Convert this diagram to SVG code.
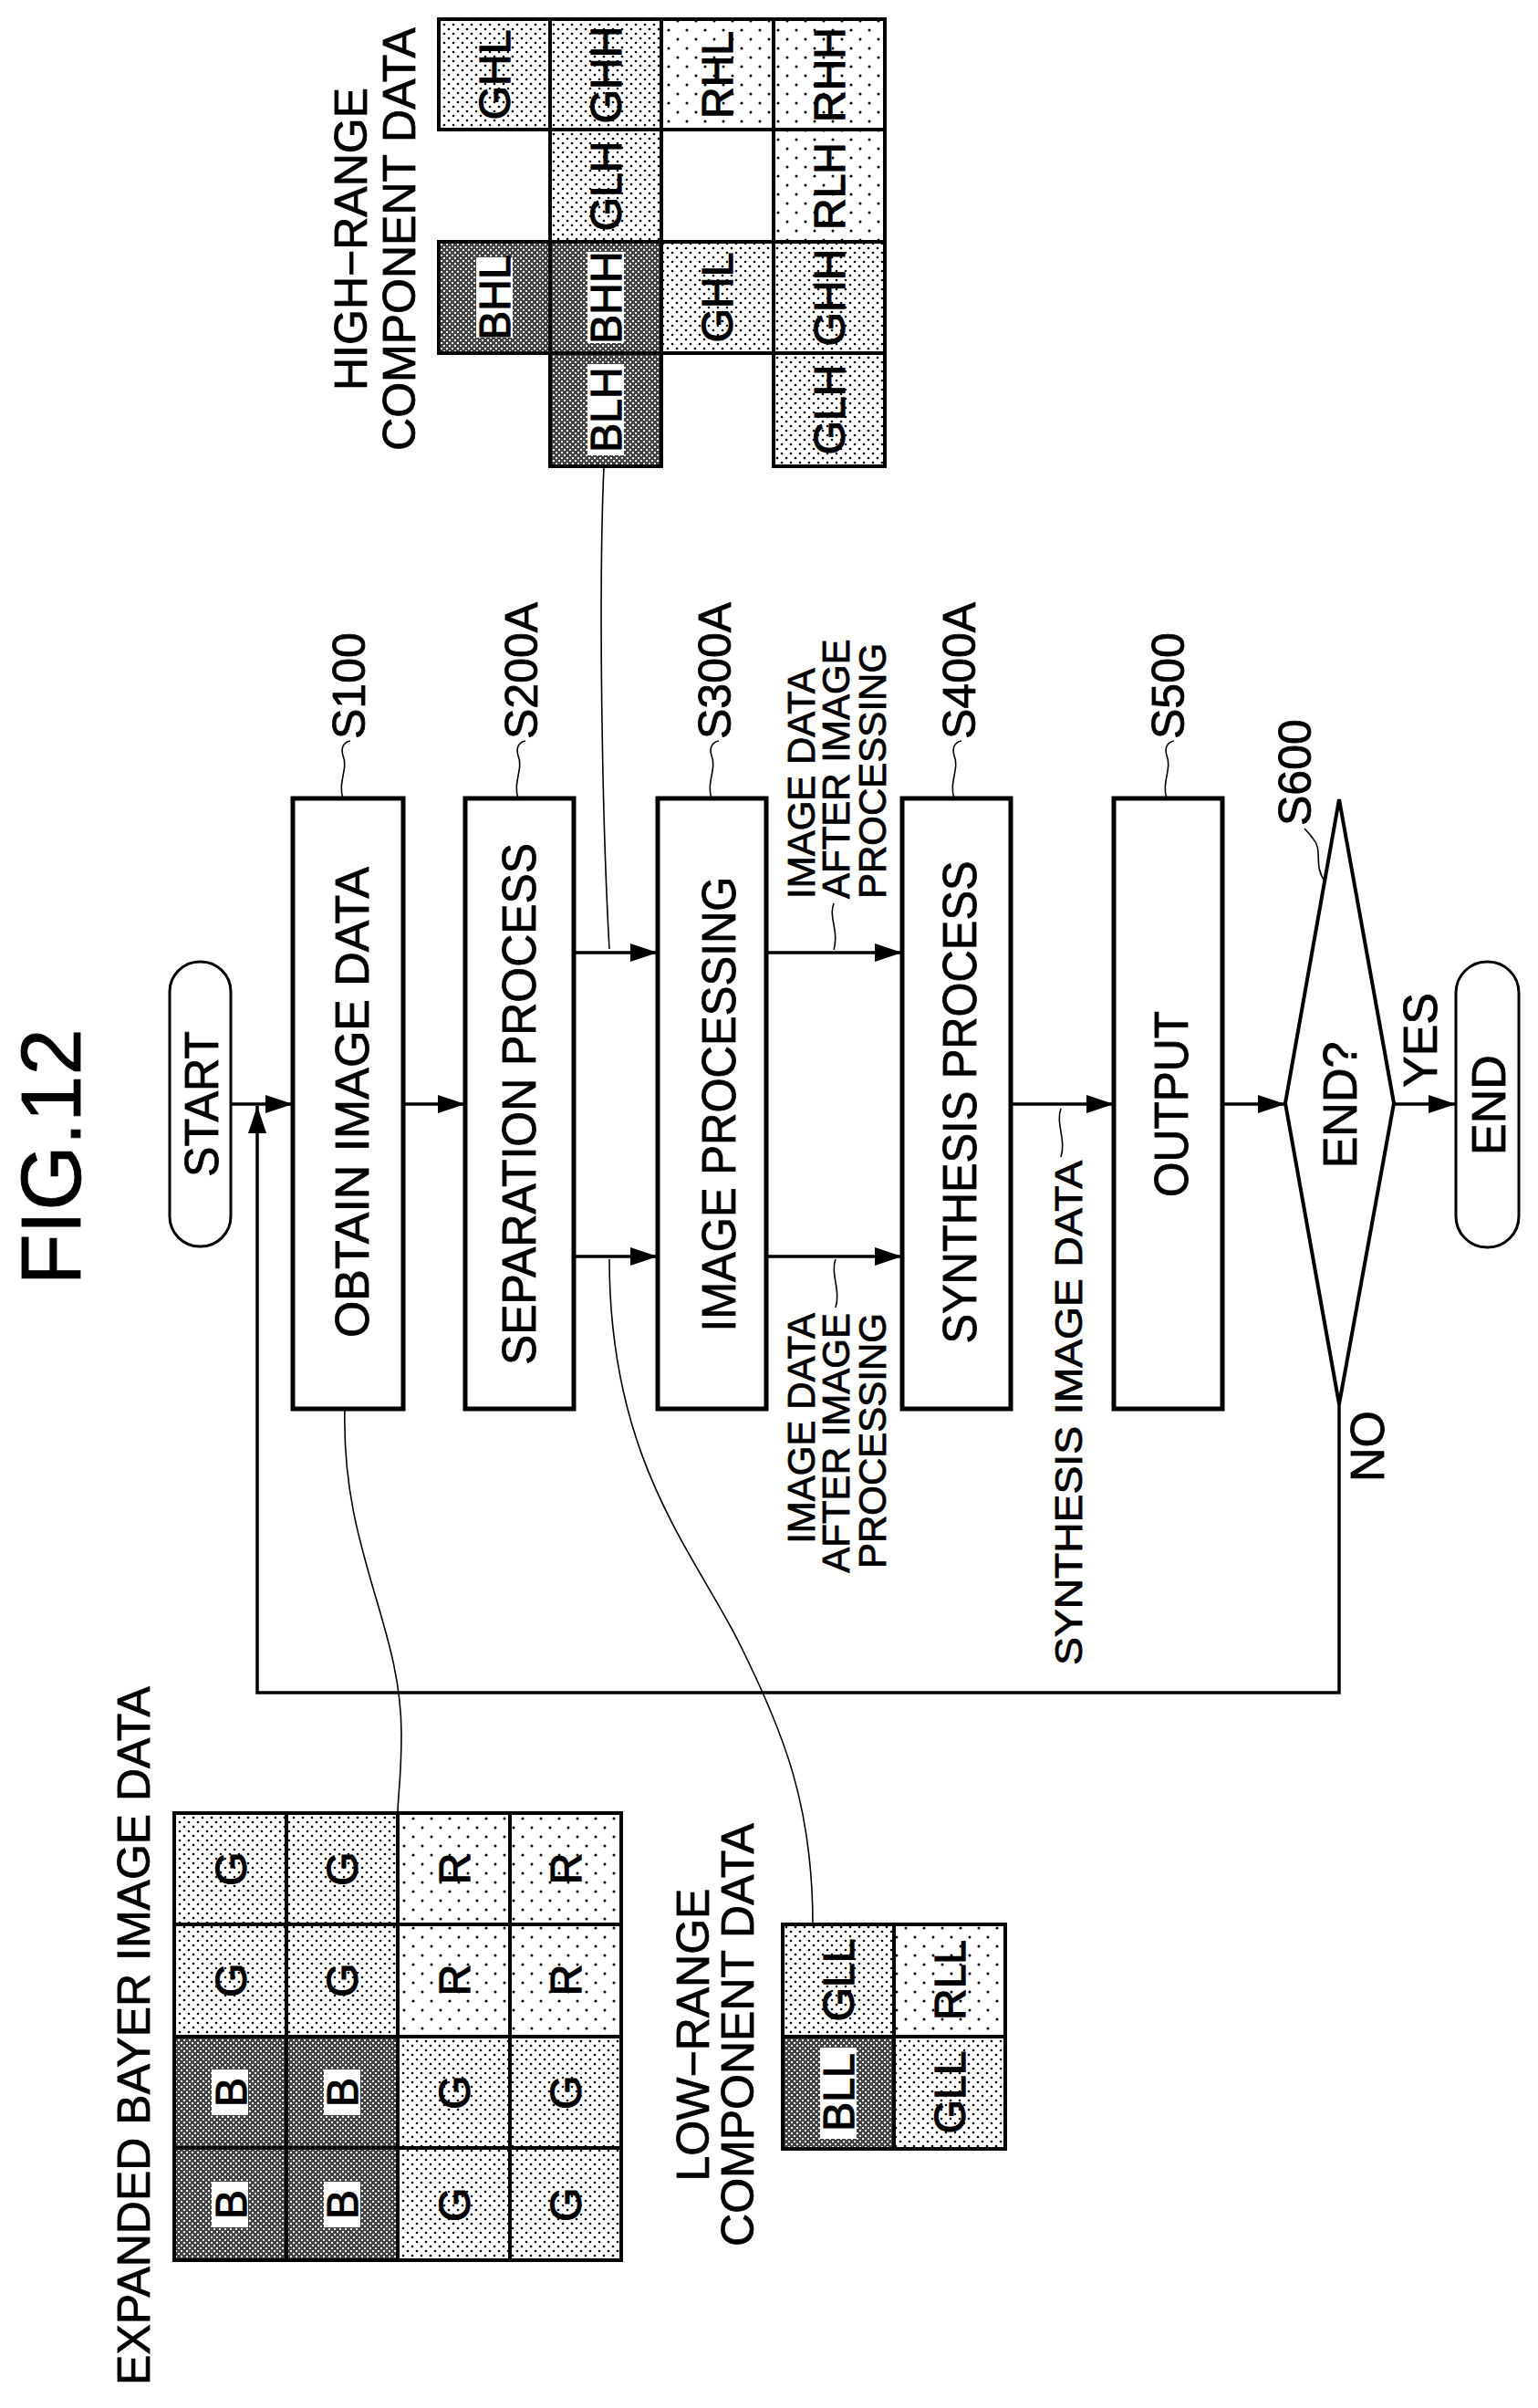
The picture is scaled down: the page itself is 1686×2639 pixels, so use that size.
<svg xmlns="http://www.w3.org/2000/svg" width="1686" height="2639" viewBox="0 0 1686 2639">
<style>
text{font-family:"Liberation Sans",Arial,sans-serif;fill:#000;stroke:#000;stroke-width:0.8}
.box{fill:#fff;stroke:#000;stroke-width:5}
.term{fill:#fff;stroke:#000;stroke-width:3}
.lbl{font-size:52px}
.step{font-size:50px}
.sm{font-size:42px}
.cell{font-size:48px;text-anchor:middle;stroke-width:1.2}
.ln{fill:none;stroke:#000;stroke-width:3.5}
.lead{fill:none;stroke:#000;stroke-width:1.6}
.grid{stroke:#000;stroke-width:4}
.g{fill:url(#pg)}.r{fill:url(#pr)}.b{fill:url(#pb)}
</style>
<defs>
<pattern id="pg" width="10" height="10" patternUnits="userSpaceOnUse"><rect width="10" height="10" fill="#fff"/><circle cx="2" cy="2" r="1.3" fill="#000"/><circle cx="7" cy="7" r="1.3" fill="#000"/></pattern>
<pattern id="pr" width="20" height="20" patternUnits="userSpaceOnUse"><rect width="20" height="20" fill="#fff"/><circle cx="3" cy="3" r="1.5" fill="#000"/><circle cx="13" cy="13" r="1.5" fill="#000"/></pattern>
<pattern id="pb" width="6" height="6" patternUnits="userSpaceOnUse"><rect width="6" height="6" fill="#444"/><rect x="0" y="0" width="2" height="2" fill="#fff"/><rect x="3" y="3" width="2" height="2" fill="#fff"/></pattern>
<marker id="ah" viewBox="0 0 30 20" refX="30" refY="10" markerWidth="30" markerHeight="20" markerUnits="userSpaceOnUse" orient="auto"><path d="M0,0 L30,10 L0,20 z" fill="#000"/></marker>
</defs>

<text transform="translate(88,1268) rotate(-90)" text-anchor="middle" font-size="92" stroke-width="1.5">FIG.12</text>

<g id="connectors">
<path class="ln" d="M253,1210 H321" marker-end="url(#ah)"/>
<path class="ln" d="M1468,1539 V1855 H282 V1212" marker-end="url(#ah)"/>
<path class="ln" d="M442,1210 H510" marker-end="url(#ah)"/>
<path class="ln" d="M629,1044 H721" marker-end="url(#ah)"/>
<path class="ln" d="M629,1377 H721" marker-end="url(#ah)"/>
<path class="ln" d="M840,1044 H989" marker-end="url(#ah)"/>
<path class="ln" d="M840,1377 H989" marker-end="url(#ah)"/>
<path class="ln" d="M1108,1210 H1221" marker-end="url(#ah)"/>
<path class="ln" d="M1340,1210 H1409" marker-end="url(#ah)"/>
<path class="ln" d="M1528,1210 H1596" marker-end="url(#ah)"/>
<path class="lead" d="M378,1544 C374,1700 440,1780 440,1900 C440,1950 436,1970 436,1987"/>
<path class="lead" d="M668,1380 C668,1600 760,1700 810,1800 C860,1900 891,1980 891,2109"/>
<path class="lead" d="M662,511 C656,650 660,900 668,1040"/>
<path class="lead" d="M914,990 C908,1005 920,1020 914,1041"/>
<path class="lead" d="M916,1380 C910,1395 922,1415 916,1433"/>
<path class="lead" d="M1163,1215 C1157,1230 1169,1250 1163,1268"/>
<path class="lead" d="M376,875 C370,858 382,842 376,828 C373,818 378,813 384,812"/>
<path class="lead" d="M568,875 C562,858 574,842 568,828 C565,818 570,813 576,812"/>
<path class="lead" d="M780,875 C774,858 786,842 780,828 C777,818 782,813 788,812"/>
<path class="lead" d="M1046,875 C1040,858 1052,842 1046,828 C1043,818 1048,813 1054,812"/>
<path class="lead" d="M1279,875 C1273,858 1285,842 1279,828 C1276,818 1281,813 1287,812"/>
<path class="lead" d="M1452,965 C1440,950 1450,930 1440,920 C1436,914 1432,910 1430,908"/>
</g>

<g id="start"><rect class="term" x="186" y="1054" width="67" height="312" rx="33"/><text class="lbl" transform="translate(239,1210) rotate(-90)" text-anchor="middle" textLength="160" lengthAdjust="spacingAndGlyphs">START</text></g>
<g id="s100"><rect class="box" x="321" y="875" width="121" height="669"/><text class="lbl" transform="translate(404,1208) rotate(-90)" text-anchor="middle" textLength="516" lengthAdjust="spacingAndGlyphs">OBTAIN IMAGE DATA</text><text class="step" transform="translate(400,810) rotate(-90)">S100</text></g>
<g id="s200a"><rect class="box" x="510" y="875" width="119" height="669"/><text class="lbl" transform="translate(587,1210) rotate(-90)" text-anchor="middle" textLength="572" lengthAdjust="spacingAndGlyphs">SEPARATION PROCESS</text><text class="step" transform="translate(589,810) rotate(-90)">S200A</text></g>
<g id="s300a"><rect class="box" x="721" y="875" width="119" height="669"/><text class="lbl" transform="translate(806,1210) rotate(-90)" text-anchor="middle" textLength="499" lengthAdjust="spacingAndGlyphs">IMAGE PROCESSING</text><text class="step" transform="translate(801,810) rotate(-90)">S300A</text></g>
<g id="s400a"><rect class="box" x="989" y="875" width="119" height="669"/><text class="lbl" transform="translate(1070,1208) rotate(-90)" text-anchor="middle" textLength="529" lengthAdjust="spacingAndGlyphs">SYNTHESIS PROCESS</text><text class="step" transform="translate(1069,810) rotate(-90)">S400A</text></g>
<g id="s500"><rect class="box" x="1221" y="875" width="119" height="669"/><text class="lbl" transform="translate(1302,1210) rotate(-90)" text-anchor="middle" textLength="204" lengthAdjust="spacingAndGlyphs">OUTPUT</text><text class="step" transform="translate(1298,810) rotate(-90)">S500</text></g>
<g id="s600"><path d="M1468,876 L1528,1209 L1468,1539 L1409,1209 z" fill="#fff" stroke="#000" stroke-width="4"/><text class="lbl" transform="translate(1487,1211) rotate(-90)" text-anchor="middle">END?</text><text class="step" transform="translate(1437,905) rotate(-90)">S600</text></g>
<g id="end"><rect class="term" x="1596" y="1054" width="69" height="313" rx="34"/><text class="lbl" transform="translate(1650,1211) rotate(-90)" text-anchor="middle">END</text></g>
<g id="labels">
<text class="lbl" transform="translate(1575,1140) rotate(-90)" text-anchor="middle" font-size="44">YES</text>
<text class="lbl" transform="translate(1517,1585) rotate(-90)" text-anchor="middle">NO</text>
<text class="sm" transform="translate(1186,1825) rotate(-90)" font-size="46" textLength="553" lengthAdjust="spacingAndGlyphs">SYNTHESIS IMAGE DATA</text>
<text class="sm" transform="translate(893,985) rotate(-90)">IMAGE DATA</text>
<text class="sm" transform="translate(931,985) rotate(-90)">AFTER IMAGE</text>
<text class="sm" transform="translate(971,985) rotate(-90)">PROCESSING</text>
<text class="sm" transform="translate(893,1439) rotate(-90)" text-anchor="end">IMAGE DATA</text>
<text class="sm" transform="translate(931,1439) rotate(-90)" text-anchor="end">AFTER IMAGE</text>
<text class="sm" transform="translate(971,1439) rotate(-90)" text-anchor="end">PROCESSING</text>
</g>

<g id="high-range">
<text class="step" transform="translate(402,262) rotate(-90)" text-anchor="middle">HIGH−RANGE</text>
<text class="step" transform="translate(455,262) rotate(-90)" text-anchor="middle">COMPONENT DATA</text>
<g class="grid">
<rect class="g" x="481" y="21" width="122" height="121"/><rect class="g" x="603" y="21" width="122" height="121"/><rect class="r" x="725" y="21" width="123" height="121"/><rect class="r" x="848" y="21" width="122" height="121"/>
<rect class="g" x="603" y="142" width="122" height="123"/><rect class="r" x="848" y="142" width="122" height="123"/>
<rect class="b" x="481" y="265" width="122" height="122"/><rect class="b" x="603" y="265" width="122" height="122"/><rect class="g" x="725" y="265" width="123" height="122"/><rect class="g" x="848" y="265" width="122" height="122"/>
<rect class="b" x="603" y="387" width="122" height="124"/><rect class="g" x="848" y="387" width="122" height="124"/>
</g>
<rect x="522" y="282" width="40" height="88" fill="#fff"/><rect x="644" y="276" width="40" height="100" fill="#fff"/><rect x="644" y="399" width="40" height="100" fill="#fff"/>
<text class="cell" transform="translate(559,82) rotate(-90)">GHL</text><text class="cell" transform="translate(681,82) rotate(-90)">GHH</text><text class="cell" transform="translate(803,82) rotate(-90)">RHL</text><text class="cell" transform="translate(926,82) rotate(-90)">RHH</text>
<text class="cell" transform="translate(681,204) rotate(-90)">GLH</text><text class="cell" transform="translate(926,204) rotate(-90)">RLH</text>
<text class="cell" transform="translate(559,326) rotate(-90)">BHL</text><text class="cell" transform="translate(681,326) rotate(-90)">BHH</text><text class="cell" transform="translate(803,326) rotate(-90)">GHL</text><text class="cell" transform="translate(926,326) rotate(-90)">GHH</text>
<text class="cell" transform="translate(681,449) rotate(-90)">BLH</text><text class="cell" transform="translate(926,449) rotate(-90)">GLH</text>
</g>

<g id="low-range">
<text class="step" transform="translate(777,2230) rotate(-90)" text-anchor="middle">LOW−RANGE</text>
<text class="step" transform="translate(826,2230) rotate(-90)" text-anchor="middle">COMPONENT DATA</text>
<g class="grid">
<rect class="g" x="858" y="2109" width="122" height="123"/><rect class="r" x="980" y="2109" width="122" height="123"/>
<rect class="b" x="858" y="2232" width="122" height="123"/><rect class="g" x="980" y="2232" width="122" height="123"/>
</g>
<rect x="899" y="2244" width="40" height="100" fill="#fff"/>
<text class="cell" transform="translate(936,2170) rotate(-90)">GLL</text><text class="cell" transform="translate(1058,2170) rotate(-90)">RLL</text>
<text class="cell" transform="translate(936,2293) rotate(-90)">BLL</text><text class="cell" transform="translate(1058,2293) rotate(-90)">GLL</text>
</g>

<g id="bayer">
<text class="step" transform="translate(164,2231) rotate(-90)" text-anchor="middle">EXPANDED BAYER IMAGE DATA</text>
<g class="grid">
<rect class="g" x="191" y="1987" width="123" height="122"/><rect class="g" x="314" y="1987" width="122" height="122"/><rect class="r" x="436" y="1987" width="123" height="122"/><rect class="r" x="559" y="1987" width="122" height="122"/>
<rect class="g" x="191" y="2109" width="123" height="123"/><rect class="g" x="314" y="2109" width="122" height="123"/><rect class="r" x="436" y="2109" width="123" height="123"/><rect class="r" x="559" y="2109" width="122" height="123"/>
<rect class="b" x="191" y="2232" width="123" height="122"/><rect class="b" x="314" y="2232" width="122" height="122"/><rect class="g" x="436" y="2232" width="123" height="122"/><rect class="g" x="559" y="2232" width="122" height="122"/>
<rect class="b" x="191" y="2354" width="123" height="123"/><rect class="b" x="314" y="2354" width="122" height="123"/><rect class="g" x="436" y="2354" width="123" height="123"/><rect class="g" x="559" y="2354" width="122" height="123"/>
</g>
<rect x="232" y="2268" width="40" height="50" fill="#fff"/><rect x="355" y="2268" width="40" height="50" fill="#fff"/><rect x="232" y="2391" width="40" height="50" fill="#fff"/><rect x="355" y="2391" width="40" height="50" fill="#fff"/>
<text class="cell" transform="translate(270,2048) rotate(-90)">G</text><text class="cell" transform="translate(392,2048) rotate(-90)">G</text><text class="cell" transform="translate(515,2048) rotate(-90)">R</text><text class="cell" transform="translate(637,2048) rotate(-90)">R</text>
<text class="cell" transform="translate(270,2170) rotate(-90)">G</text><text class="cell" transform="translate(392,2170) rotate(-90)">G</text><text class="cell" transform="translate(515,2170) rotate(-90)">R</text><text class="cell" transform="translate(637,2170) rotate(-90)">R</text>
<text class="cell" transform="translate(270,2293) rotate(-90)">B</text><text class="cell" transform="translate(392,2293) rotate(-90)">B</text><text class="cell" transform="translate(515,2293) rotate(-90)">G</text><text class="cell" transform="translate(637,2293) rotate(-90)">G</text>
<text class="cell" transform="translate(270,2416) rotate(-90)">B</text><text class="cell" transform="translate(392,2416) rotate(-90)">B</text><text class="cell" transform="translate(515,2416) rotate(-90)">G</text><text class="cell" transform="translate(637,2416) rotate(-90)">G</text>
</g>
</svg>
